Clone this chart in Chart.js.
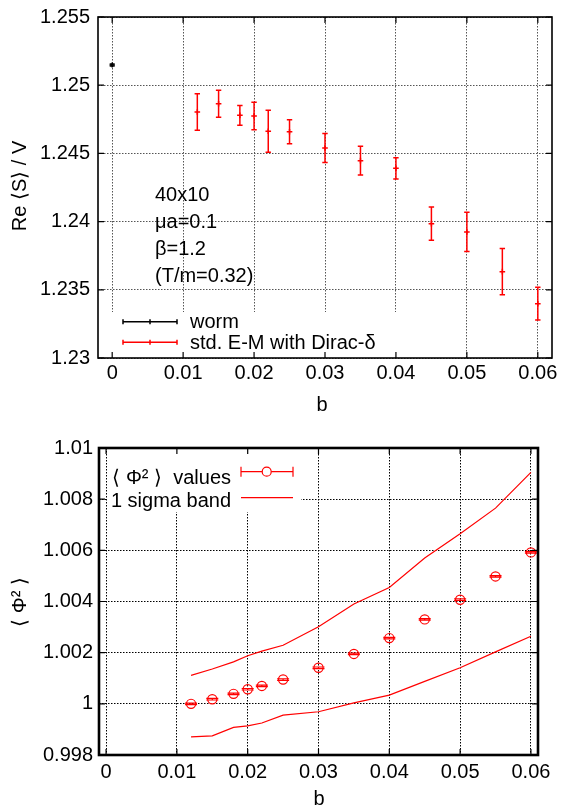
<!DOCTYPE html>
<html>
<head>
<meta charset="utf-8">
<script src="https://cdn.jsdelivr.net/npm/chart.js@4.4.1/dist/chart.umd.min.js"></script>
<style>
body { margin: 0; background: #fff; }
#top { position: absolute; left: 0; top: 0; width: 561px; height: 420px; }
#bottom { position: absolute; left: 0; top: 420px; width: 561px; height: 385px; }
</style>
</head>
<body>
<div id="top"><canvas id="sChart"></canvas></div>
<div id="bottom"><canvas id="phiChart"></canvas></div>
<script>
// b values shared by both plots
const bValues = [0.012, 0.015, 0.018, 0.02, 0.022, 0.025, 0.03, 0.035, 0.04, 0.045, 0.05, 0.055, 0.06];

// top plot: Re<S>/V
const wormB = [0];
const wormS = [1.25148];
const wormErr = [0.00008];
const emS = [1.24804, 1.24864, 1.24779, 1.24774, 1.24662, 1.24659, 1.2454, 1.24447, 1.24391, 1.23985, 1.23924, 1.23633, 1.23398];
const emErr = [0.00134, 0.00099, 0.00073, 0.00101, 0.00154, 0.00088, 0.00106, 0.00106, 0.00078, 0.00122, 0.00144, 0.0017, 0.0012];

// bottom plot: <Phi^2>
const phiValues = [1.0000, 1.00018, 1.00039, 1.00057, 1.0007, 1.00095, 1.00141, 1.00195, 1.00257, 1.0033, 1.00407, 1.00498, 1.00592];
const phiErr = [0.00003, 0.00003, 0.00003, 0.00003, 0.00003, 0.00003, 0.00003, 0.00003, 0.00003, 0.00003, 0.00003, 0.00003, 0.00003];
const bandUpper = [1.00111, 1.00136, 1.00164, 1.00188, 1.00206, 1.00229, 1.00301, 1.0039, 1.00455, 1.0057, 1.00665, 1.00765, 1.00905];
const bandLower = [0.99871, 0.99875, 0.99908, 0.99914, 0.99925, 0.99956, 0.99969, 1.00004, 1.00034, 1.00088, 1.00141, 1.00203, 1.00264];

// ticks
const xTicks = [0, 0.01, 0.02, 0.03, 0.04, 0.05, 0.06];
const xTickLabels = ['0', '0.01', '0.02', '0.03', '0.04', '0.05', '0.06'];
const sTicks = [1.23, 1.235, 1.24, 1.245, 1.25, 1.255];
const sTickLabels = ['1.23', '1.235', '1.24', '1.245', '1.25', '1.255'];
const phiTicks = [0.998, 1, 1.002, 1.004, 1.006, 1.008, 1.01];
const phiTickLabels = ['0.998', '1', '1.002', '1.004', '1.006', '1.008', '1.01'];

const FONT = '"Liberation Sans", Arial, sans-serif';
const RED = '#ff0000';

const toPoints = (xs, ys) => xs.map((x, i) => ({ x: x, y: ys[i] }));

const xAxis = (min, max, height, pad, gridColor, dash) => ({
    type: 'linear',
    min: min,
    max: max,
    afterBuildTicks: (s) => { s.ticks = xTicks.map(v => ({ value: v })); },
    afterFit: (s) => { s.height = height; s.paddingLeft = 0; s.paddingRight = 0; },
    ticks: {
        callback: (v, i) => xTickLabels[i],
        font: { size: 20, family: FONT },
        color: '#000',
        padding: pad,
        maxRotation: 0,
        autoSkip: false
    },
    grid: { color: gridColor, drawTicks: false, lineWidth: 1 },
    border: { display: false, dash: dash }
});

const yAxis = (min, max, width, pad, ticks, labels, gridColor, dash) => ({
    type: 'linear',
    min: min,
    max: max,
    afterBuildTicks: (s) => { s.ticks = ticks.map(v => ({ value: v })); },
    afterFit: (s) => { s.width = width; s.paddingTop = 0; s.paddingBottom = 0; },
    ticks: {
        callback: (v, i) => labels[i],
        font: { size: 20, family: FONT },
        color: '#000',
        padding: pad,
        autoSkip: false
    },
    grid: { color: gridColor, drawTicks: false, lineWidth: 1 },
    border: { display: false, dash: dash }
});

// gnuplot-like decorations: key box, error bars, frame, inward ticks, texts
const decor = (cfg) => ({
    id: 'decor',
    beforeDatasetsDraw(chart) {
        const ctx = chart.ctx;
        const k = cfg.keyBox;
        ctx.save();
        ctx.fillStyle = '#fff';
        ctx.fillRect(k[0], k[1], k[2] - k[0], k[3] - k[1]);
        ctx.restore();
    },
    afterDatasetsDraw(chart) {
        const ctx = chart.ctx;
        const xs = chart.scales.x, ys = chart.scales.y;
        ctx.save();
        chart.data.datasets.forEach(ds => {
            if (!ds.errors) return;
            ctx.strokeStyle = ds.borderColor;
            ctx.lineWidth = ds.errWidth || 1.5;
            ds.data.forEach((p, i) => {
                const px = xs.getPixelForValue(p.x);
                const y1 = ys.getPixelForValue(p.y + ds.errors[i]);
                const y2 = ys.getPixelForValue(p.y - ds.errors[i]);
                const c = ds.capHalf;
                ctx.beginPath();
                ctx.moveTo(px, y1); ctx.lineTo(px, y2);
                ctx.moveTo(px - c, y1); ctx.lineTo(px + c, y1);
                ctx.moveTo(px - c, y2); ctx.lineTo(px + c, y2);
                ctx.stroke();
            });
        });
        ctx.restore();
    },
    afterDraw(chart) {
        const ctx = chart.ctx;
        const a = chart.chartArea;
        const xs = chart.scales.x, ys = chart.scales.y;
        ctx.save();
        // frame
        ctx.strokeStyle = '#000';
        ctx.lineWidth = cfg.frameWidth;
        ctx.strokeRect(a.left, a.top, a.right - a.left, a.bottom - a.top);
        // inward ticks
        ctx.lineWidth = 1.2;
        ctx.beginPath();
        xTicks.forEach(v => {
            const px = xs.getPixelForValue(v);
            ctx.moveTo(px, a.top); ctx.lineTo(px, a.top + 6);
            ctx.moveTo(px, a.bottom); ctx.lineTo(px, a.bottom - 6);
        });
        cfg.yTicks.forEach(v => {
            const py = ys.getPixelForValue(v);
            ctx.moveTo(a.left, py); ctx.lineTo(a.left + 6, py);
            ctx.moveTo(a.right, py); ctx.lineTo(a.right - 6, py);
        });
        ctx.stroke();
        // texts
        ctx.fillStyle = '#000';
        ctx.font = '20px ' + FONT;
        ctx.textBaseline = 'middle';
        ctx.textAlign = 'center';
        ctx.fillText('b', cfg.xTitle[0], cfg.xTitle[1]);
        ctx.save();
        ctx.translate(cfg.yTitle[0], cfg.yTitle[1]);
        ctx.rotate(-Math.PI / 2);
        ctx.fillText(cfg.yTitleText, 0, 0);
        ctx.restore();
        cfg.extra(ctx);
        ctx.restore();
    }
});

const topDecor = decor({
    keyBox: [99, 312, 400, 357],
    frameWidth: 1.6,
    yTicks: sTicks,
    xTitle: [322, 405],
    yTitle: [20, 186],
    yTitleText: 'Re \u27E8S\u27E9 / V',
    extra: (ctx) => {
        ctx.textAlign = 'left';
        ['40x10', '\u03BCa=0.1', '\u03B2=1.2', '(T/m=0.32)'].forEach((t, i) => {
            ctx.fillText(t, 155, 195 + i * 27.3);
        });
        const key = [['worm', '#000', 321.7], ['std. E-M with Dirac-\u03B4', RED, 342.3]];
        key.forEach(([t, col, y]) => {
            ctx.fillStyle = '#000';
            ctx.fillText(t, 190, y + 1);
            ctx.strokeStyle = col;
            ctx.lineWidth = 1.5;
            ctx.beginPath();
            ctx.moveTo(123, y); ctx.lineTo(177, y);
            ctx.moveTo(123, y - 2.5); ctx.lineTo(123, y + 2.5);
            ctx.moveTo(177, y - 2.5); ctx.lineTo(177, y + 2.5);
            ctx.moveTo(150, y - 2.5); ctx.lineTo(150, y + 2.5);
            ctx.stroke();
        });
    }
});

const bottomDecor = decor({
    keyBox: [108, 29, 301, 92],
    frameWidth: 2.6,
    yTicks: phiTicks,
    xTitle: [319, 379],
    yTitle: [20, 182],
    yTitleText: '\u27E8 \u03A6\u00B2 \u27E9',
    extra: (ctx) => {
        ctx.textAlign = 'right';
        ctx.fillText('\u27E8 \u03A6\u00B2 \u27E9  values', 231, 58);
        ctx.fillText('1 sigma band', 231, 81.7);
        ctx.strokeStyle = RED;
        ctx.lineWidth = 1.2;
        ctx.beginPath();
        ctx.moveTo(241, 51.7); ctx.lineTo(262.2, 51.7);
        ctx.moveTo(271.2, 51.7); ctx.lineTo(293, 51.7);
        ctx.moveTo(241, 46.7); ctx.lineTo(241, 56.7);
        ctx.moveTo(293, 46.7); ctx.lineTo(293, 56.7);
        ctx.moveTo(241, 77.7); ctx.lineTo(293, 77.7);
        ctx.stroke();
        ctx.beginPath();
        ctx.arc(266.7, 51.7, 4.5, 0, Math.PI * 2);
        ctx.stroke();
    }
});

new Chart(document.getElementById('sChart'), {
    type: 'scatter',
    data: {
        datasets: [{
            label: 'worm',
            data: toPoints(wormB, wormS),
            errors: wormErr,
            capHalf: 2.5,
            borderColor: '#000',
            backgroundColor: '#000',
            pointStyle: 'cross',
            pointRadius: 2.5,
            borderWidth: 1.5
        }, {
            label: 'std. E-M with Dirac-\u03B4',
            data: toPoints(bValues, emS),
            errors: emErr,
            capHalf: 2.7,
            borderColor: RED,
            backgroundColor: RED,
            pointStyle: 'cross',
            pointRadius: 2.8,
            borderWidth: 1.5
        }]
    },
    options: {
        responsive: true,
        maintainAspectRatio: false,
        devicePixelRatio: 1,
        animation: false,
        layout: { padding: { top: 17, right: 9, left: 0, bottom: 0 } },
        plugins: { legend: { display: false }, tooltip: { enabled: false } },
        scales: {
            x: xAxis(-0.002, 0.062, 62, 3, '#555', [1.5, 1.5]),
            y: yAxis(1.23, 1.255, 98, 8, sTicks, sTickLabels, '#555', [1.5, 1.5])
        }
    },
    plugins: [topDecor]
});

new Chart(document.getElementById('phiChart'), {
    type: 'scatter',
    data: {
        datasets: [{
            label: 'values',
            data: toPoints(bValues, phiValues),
            errors: phiErr,
            capHalf: 6,
            errWidth: 1.2,
            borderColor: RED,
            backgroundColor: 'rgba(0,0,0,0)',
            pointStyle: 'circle',
            pointRadius: 4.6,
            borderWidth: 1.2
        }, {
            label: 'upper',
            data: toPoints(bValues, bandUpper),
            showLine: true,
            borderColor: RED,
            borderWidth: 1.2,
            pointRadius: 0
        }, {
            label: 'lower',
            data: toPoints(bValues, bandLower),
            showLine: true,
            borderColor: RED,
            borderWidth: 1.2,
            pointRadius: 0
        }]
    },
    options: {
        responsive: true,
        maintainAspectRatio: false,
        devicePixelRatio: 1,
        animation: false,
        layout: { padding: { top: 28, right: 23, left: 0, bottom: 0 } },
        plugins: { legend: { display: false }, tooltip: { enabled: false } },
        scales: {
            x: xAxis(-0.001, 0.061, 50, 5, '#000', [1.5, 1.5]),
            y: yAxis(0.998, 1.01, 99, 6, phiTicks, phiTickLabels, '#000', [1.5, 1.5])
        }
    },
    plugins: [bottomDecor]
});
</script>
</body>
</html>
